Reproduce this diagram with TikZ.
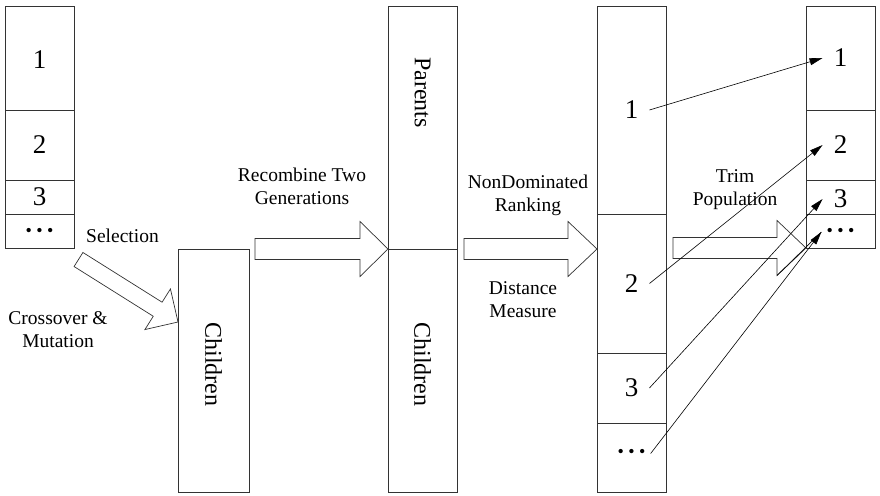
\documentclass[tikz,border=0pt]{standalone}
\usepackage{fontspec}
\setmainfont{Liberation Serif}
\usetikzlibrary{calc,arrows.meta}

\tikzset{
  cell/.style={draw=black!80, line width=0.7pt, minimum width=69pt, anchor=north west, inner sep=0pt, outer sep=0pt},
  num/.style={font=\fontsize{27}{27}\selectfont, inner xsep=11pt, inner ysep=0pt},
  dots/.style={font=\fontsize{18}{18}\selectfont, inner xsep=5pt, inner ysep=0pt},
  caption/.style={font=\fontsize{19.5}{23}\selectfont, align=center, inner sep=0pt},
  vlabel/.style={font=\fontsize{24}{24}\selectfont, rotate=-90, inner sep=0pt},
  hollow/.style={draw=black!80, line width=0.7pt, fill=white, line join=miter},
  link/.style={line width=0.6pt, -{Triangle[length=13pt,width=7pt]}},
}

% three spaced bullets marking the remaining entries
\newcommand\moreitems{•\hspace{4.5pt}•\hspace{4.5pt}•}

% block arrow drawn as an outline: name, from, to, shaft half-width, head half-width, head length
\newcommand\hollowarrow[6]{%
  \coordinate (#1-tail) at #2;
  \coordinate (#1-tip) at #3;
  \coordinate (#1-base) at ($(#1-tip)!#6!(#1-tail)$);
  \coordinate (#1-hi) at ($(#1-base)!#5!90:(#1-tip)$);
  \coordinate (#1-lo) at ($(#1-base)!#5!-90:(#1-tip)$);
  \draw[hollow] ($(#1-tail)!#4!-90:(#1-tip)$) -- ($(#1-tail)!#4!90:(#1-tip)$)
    -- ($(#1-base)!#4!90:(#1-tip)$) -- (#1-hi) -- (#1-tip) -- (#1-lo)
    -- ($(#1-base)!#4!-90:(#1-tip)$) -- cycle;
}

\begin{document}
\begin{tikzpicture}[x=1pt, y=-1pt]
\useasboundingbox (0,0) rectangle (880,495);

% current population
\node[cell, minimum height=104pt] (a1) at (5,6) {};
\node[cell, minimum height=70pt]  (a2) at (a1.south west) {};
\node[cell, minimum height=34pt]  (a3) at (a2.south west) {};
\node[cell, minimum height=34pt]  (a4) at (a3.south west) {};
\node[num]  (a1t) at ($(a1.center)+(0,2)$) {1};
\node[num]  (a2t) at (a2.center) {2};
\node[num]  (a3t) at (a3.center) {3};
\node[dots] (a4t) at ($(a4.center)+(0,1)$) {\moreitems};

% offspring
\node[cell, minimum width=71pt, minimum height=243pt] (ch) at (178,249) {};
\node[vlabel] (cht) at ($(ch.center)+(0,-6)$) {Children};

% combined generations
\node[cell, minimum height=243pt] (bp) at (388,6) {};
\node[cell, minimum height=243pt] (bc) at (bp.south west) {};
\node[vlabel] (bpt) at ($(bp.center)+(0,-35)$) {Parents};
\node[vlabel] (bct) at ($(bc.center)+(0,-6)$) {Children};

% ranked fronts
\node[cell, minimum height=208pt] (c1) at (597,6) {};
\node[cell, minimum height=139pt] (c2) at (c1.south west) {};
\node[cell, minimum height=70pt]  (c3) at (c2.south west) {};
\node[cell, minimum height=69pt]  (c4) at (c3.south west) {};
\node[num]  (c1t) at (c1.center) {1};
\node[num]  (c2t) at (c2.center) {2};
\node[num]  (c3t) at (c3.center) {3};
\node[dots] (c4t) at ($(c4.center)+(0,-4)$) {\moreitems};

% next population
\node[cell, minimum height=104pt] (d1) at (806,6) {};
\node[cell, minimum height=70pt]  (d2) at (d1.south west) {};
\node[cell, minimum height=34pt]  (d3) at (d2.south west) {};
\node[cell, minimum height=34pt]  (d4) at (d3.south west) {};
\node[num]  (d1t) at (d1.center) {1};
\node[num]  (d2t) at (d2.center) {2};
\node[num]  (d3t) at ($(d3.center)+(0,2)$) {3};
\node[dots] (d4t) at ($(d4.center)+(0,1)$) {\moreitems};

% block arrows
\hollowarrow{sel}{($(a4.south east)+(4.5,11.5)$)}{($(ch.north west)+(0,73)$)}{8.3pt}{24pt}{24pt}
\hollowarrow{rec}{($(ch.north east)+(6,0)$)}{(bp.south west)}{10.5pt}{27.5pt}{28pt}
\hollowarrow{ndr}{($(bp.south east)+(7,0)$)}{(c2.west |- bp.south)}{10.5pt}{27.5pt}{29pt}
\hollowarrow{trim}{($(c2.east |- d4.south)+(7,0)$)}{(d4.south west)}{10.5pt}{27.5pt}{29pt}

% step captions
\node[caption] (selcap) at (122.5,235.5) {Selection};
\node[caption] (cmcap)  at (58,330)  {Crossover \&\\Mutation};
\node[caption] (rgcap)  at (302,186) {Recombine Two\\Generations};
\node[caption] (ndcap)  at (528,195) {NonDominated\\Ranking};
\node[caption] (dmcap)  at (523,300) {Distance\\Measure};
\node[caption] (tpcap)  at (735,190) {Trim\\Population};

% fronts copied into the next population
\draw[link] (c1t.east) -- (d1t.west);
\draw[link] (c2t.east) -- (d2t.west);
\draw[link] (c3t.east) -- (d3t.west);
\draw[link] (c4t.east) -- (d4t.west);
\draw[line width=0.6pt] (trim-lo) -- (d4t.west);
\end{tikzpicture}
\end{document}
